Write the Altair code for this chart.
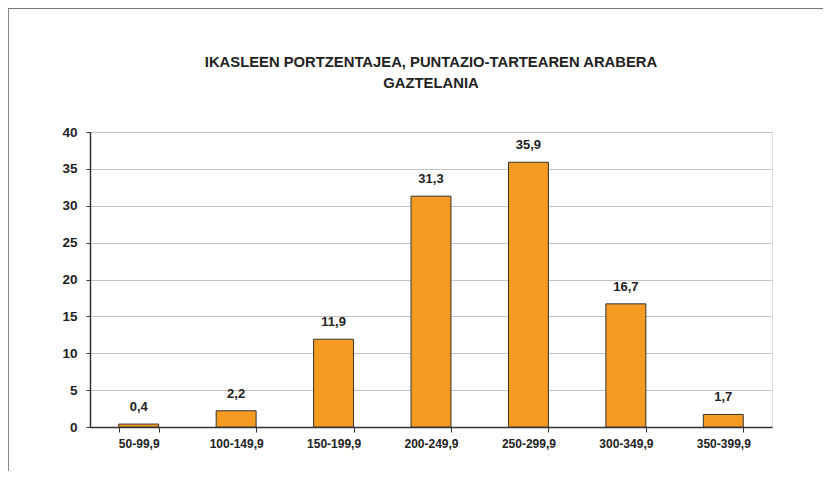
import altair as alt
import pandas as pd

categories = ["50-99,9", "100-149,9", "150-199,9", "200-249,9", "250-299,9", "300-349,9", "350-399,9"]
values = [0.4, 2.2, 11.9, 31.3, 35.9, 16.7, 1.7]
labels = ["0,4", "2,2", "11,9", "31,3", "35,9", "16,7", "1,7"]
y_ticks = [0, 5, 10, 15, 20, 25, 30, 35, 40]
title_lines = ["IKASLEEN PORTZENTAJEA, PUNTAZIO-TARTEAREN ARABERA", "GAZTELANIA"]

df = pd.DataFrame({"cat": categories, "val": values, "lbl": labels})
tdf = pd.DataFrame({"t": title_lines, "i": [0, 1]})

FONT = "Liberation Sans"

x = alt.X("cat:N", sort=categories, title=None,
          scale=alt.Scale(paddingInner=0.59, paddingOuter=0.295),
          axis=alt.Axis(labelAngle=0, labelFont=FONT, labelFontSize=12, labelFontWeight="bold",
                        labelColor="#222", labelPadding=6, tickBand="extent", tickSize=5,
                        tickColor="#333", domainColor="#333", domainWidth=1.5, grid=False))
y = alt.Y("val:Q", title=None, scale=alt.Scale(domain=[0, 40], nice=False),
          axis=alt.Axis(values=y_ticks, labelFont=FONT, labelFontSize=13.5, labelFontWeight="bold",
                        labelColor="#222", labelPadding=9, tickSize=4, tickColor="#333",
                        labelOverlap=False,
                        domainColor="#333", domainWidth=1.5, gridColor="#c4c4c4", gridWidth=1))

bars = alt.Chart(df).mark_bar(color="#F59B22", stroke="#333333", strokeWidth=1).encode(x=x, y=y)
text = alt.Chart(df).mark_text(font=FONT, fontSize=13, fontWeight="bold", color="#222",
                               baseline="alphabetic", dy=-13).encode(x=x, y=y, text="lbl:N")

title1 = alt.Chart(tdf).transform_filter("datum.i == 0").mark_text(
    font=FONT, fontSize=14.8, fontWeight="bold", color="#222", baseline="middle", clip=False).encode(
    x=alt.value(341), y=alt.value(-69), text="t:N")
title2 = alt.Chart(tdf).transform_filter("datum.i == 1").mark_text(
    font=FONT, fontSize=14.8, fontWeight="bold", color="#222", baseline="middle", clip=False).encode(
    x=alt.value(341), y=alt.value(-48), text="t:N")

frame_left = alt.Chart(df).mark_rule(color="#777", strokeWidth=1.5, clip=False).encode(
    x=alt.value(-82.5), y=alt.value(-124), y2=alt.value(400))
frame_top = alt.Chart(df).mark_rule(color="#777", strokeWidth=1.5, clip=False).encode(
    x=alt.value(-82.5), x2=alt.value(800), y=alt.value(-124))

chart = alt.layer(bars, text, title1, title2, frame_left, frame_top).properties(
    width=682, height=295,
    padding={"left": 82, "top": 124, "right": 51, "bottom": 44},
    autosize=alt.AutoSizeParams(type="none"),
).configure_view(stroke="#333", strokeWidth=1.5).configure(background="white")

chart.save("out.html", embed_options={"renderer": "svg", "actions": False})
